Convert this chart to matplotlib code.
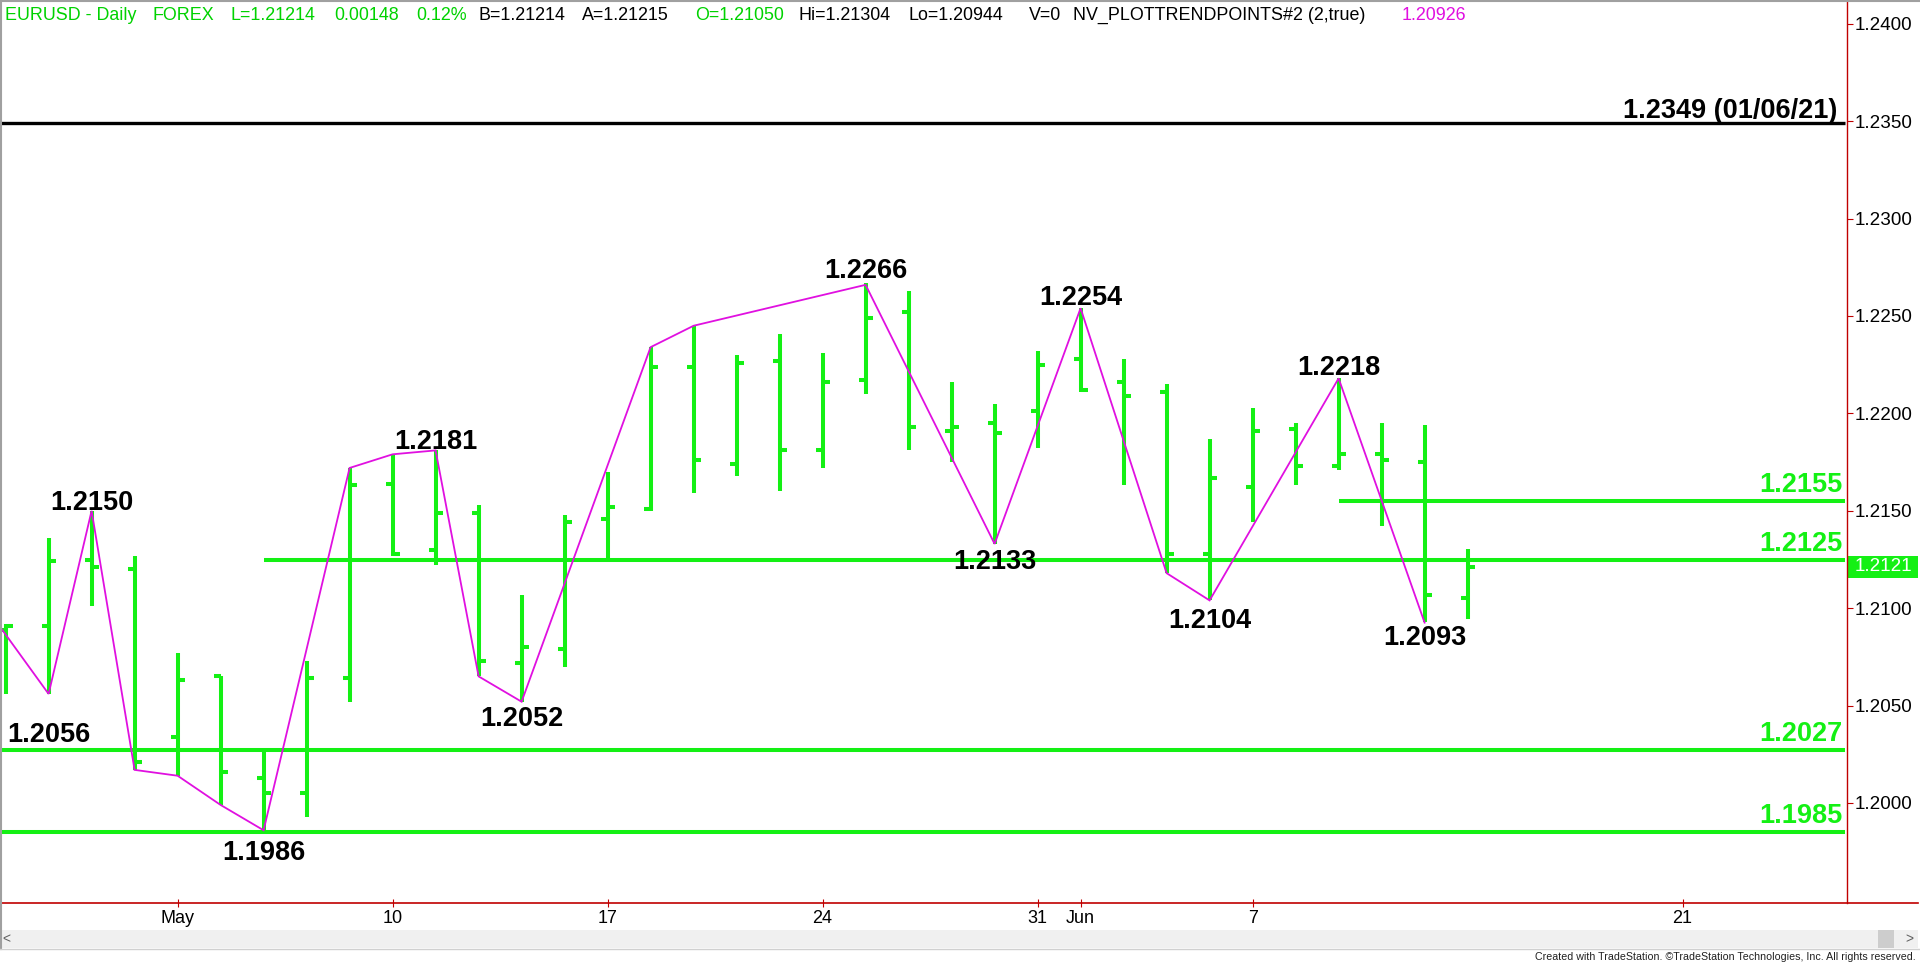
import numpy as np
import matplotlib
matplotlib.use('Agg')
import matplotlib.pyplot as plt
from matplotlib.patches import Rectangle
from matplotlib.lines import Line2D

plt.rcParams['font.family'] = ['Liberation Sans', 'DejaVu Sans']

# ---------------- data ----------------
dates = ['2021-04-27', '2021-04-28', '2021-04-29', '2021-04-30',
         '2021-05-03', '2021-05-04', '2021-05-05', '2021-05-06', '2021-05-07',
         '2021-05-10', '2021-05-11', '2021-05-12', '2021-05-13', '2021-05-14',
         '2021-05-17', '2021-05-18', '2021-05-19', '2021-05-20', '2021-05-21',
         '2021-05-24', '2021-05-25', '2021-05-26', '2021-05-27', '2021-05-28',
         '2021-05-31', '2021-06-01', '2021-06-02', '2021-06-03', '2021-06-04',
         '2021-06-07', '2021-06-08', '2021-06-09', '2021-06-10', '2021-06-11',
         '2021-06-14']
opens = [1.2089, 1.2091, 1.2125, 1.2120,
         1.2034, 1.2065, 1.2013, 1.2005, 1.2064,
         1.2164, 1.2130, 1.2149, 1.2072, 1.2079,
         1.2146, 1.2151, 1.2224, 1.2174, 1.2227,
         1.2181, 1.2217, 1.2252, 1.2191, 1.2195,
         1.2201, 1.2228, 1.2216, 1.2211, 1.2128,
         1.2162, 1.2192, 1.2173, 1.2179, 1.2175,
         1.21050]
highs = [1.2092, 1.2136, 1.2150, 1.2127,
         1.2077, 1.2065, 1.2026, 1.2073, 1.2172,
         1.2179, 1.2181, 1.2153, 1.2107, 1.2148,
         1.2170, 1.2234, 1.2245, 1.2230, 1.2241,
         1.2231, 1.2267, 1.2263, 1.2216, 1.2205,
         1.2232, 1.2254, 1.2228, 1.2215, 1.2187,
         1.2203, 1.2195, 1.2218, 1.2195, 1.2194,
         1.21304]
lows = [1.2056, 1.2056, 1.2101, 1.2017,
        1.2014, 1.1999, 1.1986, 1.1993, 1.2052,
        1.2127, 1.2122, 1.2065, 1.2052, 1.2070,
        1.2126, 1.2150, 1.2159, 1.2168, 1.2160,
        1.2172, 1.2210, 1.2181, 1.2175, 1.2133,
        1.2182, 1.2211, 1.2163, 1.2118, 1.2104,
        1.2144, 1.2163, 1.2171, 1.2142, 1.2093,
        1.20944]
closes = [1.2091, 1.2124, 1.2121, 1.2021,
          1.2063, 1.2016, 1.2005, 1.2064, 1.2163,
          1.2128, 1.2149, 1.2073, 1.2080, 1.2144,
          1.2152, 1.2224, 1.2176, 1.2226, 1.2181,
          1.2216, 1.2249, 1.2193, 1.2193, 1.2190,
          1.2225, 1.2212, 1.2209, 1.2128, 1.2167,
          1.2191, 1.2173, 1.2179, 1.2176, 1.2107,
          1.21214]

# zig-zag trend points (NV_PLOTTRENDPOINTS)
trend_dates = ['2021-04-26', '2021-04-28', '2021-04-29', '2021-04-30', '2021-05-03',
               '2021-05-04', '2021-05-05', '2021-05-07', '2021-05-10', '2021-05-11',
               '2021-05-12', '2021-05-13', '2021-05-18', '2021-05-19', '2021-05-25',
               '2021-05-28', '2021-06-01', '2021-06-03', '2021-06-04', '2021-06-09',
               '2021-06-11']
trend_values = [1.2117, 1.2056, 1.2150, 1.2017, 1.2014,
                1.1999, 1.1986, 1.2172, 1.2179, 1.2181,
                1.2065, 1.2052, 1.2234, 1.2245, 1.2266,
                1.2133, 1.2254, 1.2118, 1.2104, 1.2218,
                1.20926]

# labelled swing points
label_dates = ['2021-04-28', '2021-04-29', '2021-05-05', '2021-05-11', '2021-05-13',
               '2021-05-25', '2021-05-28', '2021-06-01', '2021-06-04', '2021-06-09',
               '2021-06-11']
label_values = [1.2056, 1.2150, 1.1986, 1.2181, 1.2052,
                1.2266, 1.2133, 1.2254, 1.2104, 1.2218, 1.2093]

# horizontal levels
level_values = [1.2349, 1.2155, 1.2125, 1.2027, 1.1985]
level_starts = [None, '2021-06-09', '2021-05-05', None, None]
level_suffix = [' (01/06/21)', '', '', '', '']

# axis ticks
tick_dates = ['2021-05-03', '2021-05-10', '2021-05-17', '2021-05-24',
              '2021-05-31', '2021-06-01', '2021-06-07', '2021-06-21']
tick_labels = ['May', '10', '17', '24', '31', 'Jun', '7', '21']
ytick_values = [1.2000, 1.2050, 1.2100, 1.2150, 1.2200, 1.2250, 1.2300, 1.2350, 1.2400]

# header quote values
bid, ask = 1.21214, 1.21215
net_change, pct_change, volume = 0.00148, 0.12, 0

# ---------------- layout / style ----------------
W, H = 1920, 963
GREEN = '#14F014'
HGREEN = '#00D200'
MAG = '#E010E0'
RED = '#C00000'
ORIGIN = '2021-05-03'
PX_PER_DAY = 43.0
X0_PX = 177.6          # pixel x of ORIGIN bar
PX_PER_UNIT = 19480.0  # pixels per 1.0 of price
AX_RIGHT, AX_BOTTOM = 1847, 903
Y_REF_PX, Y_REF = 803, 1.2000


def day_index(d):
    return np.busday_count(ORIGIN, np.array(d, dtype='datetime64[D]'))


fig = plt.figure(figsize=(W / 100, H / 100), dpi=100)
fig.patch.set_facecolor('white')
ax = fig.add_axes([0, (H - AX_BOTTOM) / H, AX_RIGHT / W, AX_BOTTOM / H])
ax.set_facecolor('white')

xlim = (-X0_PX / PX_PER_DAY, (AX_RIGHT - X0_PX) / PX_PER_DAY)
ylim = (Y_REF - (AX_BOTTOM - Y_REF_PX) / PX_PER_UNIT, Y_REF + Y_REF_PX / PX_PER_UNIT)
ax.set_xlim(*xlim)
ax.set_ylim(*ylim)

x = day_index(dates).astype(float)
tl = 7.0 / PX_PER_DAY
bar_lw = 2.9

vl = ax.vlines(x, lows, highs, color=GREEN, lw=bar_lw, zorder=3)
vl.set_capstyle('butt')
ol = ax.hlines(opens, x - tl, x, color=GREEN, lw=bar_lw, zorder=3)
ol.set_capstyle('butt')
cl = ax.hlines(closes, x, x + tl, color=GREEN, lw=bar_lw, zorder=3)
cl.set_capstyle('butt')

# horizontal levels
x_end = xlim[1] - 2.0 / PX_PER_DAY
for v, s, suf in zip(level_values, level_starts, level_suffix):
    xs = xlim[0] if s is None else float(day_index(s))
    col = 'black' if suf else GREEN
    lw = 2.4 if suf else 2.9
    ln = ax.hlines(v, xs, x_end, color=col, lw=lw, zorder=2)
    ln.set_capstyle('butt')
    xr = (1837 if suf else 1842.7) / AX_RIGHT
    dy = 4.7 if suf else 9.0
    ax.annotate(f'{v:.4f}{suf}', xy=(xr, v), xycoords=('axes fraction', 'data'),
                xytext=(0, dy), textcoords='offset pixels', ha='right', va='baseline',
                fontsize=19.5, fontweight='bold', color=col, zorder=5,
                annotation_clip=False)

# zig-zag
ax.plot(day_index(trend_dates).astype(float), trend_values, color=MAG, lw=1.3,
        zorder=4, solid_joinstyle='miter')

# swing labels (pixel offsets of text baseline from the swing point)
label_dy = [-47.7, 0.5, -30.0, 1.0, -24.0, 6.6, -25.0, 3.3, -27.6, 3.4, -23.3]
for d, v, dy in zip(label_dates, label_values, label_dy):
    ax.annotate(f'{v:.4f}', xy=(float(day_index(d)), v), xytext=(0, dy),
                textcoords='offset pixels', ha='center', va='baseline',
                fontsize=19.5, fontweight='bold', color='black', zorder=6,
                annotation_clip=False)

# axes styling
for sp in ax.spines.values():
    sp.set_visible(False)
ax.yaxis.tick_right()
ax.set_yticks(ytick_values)
ax.set_yticklabels([f'{v:.4f}' for v in ytick_values])
ax.tick_params(axis='y', direction='out', length=4.3, width=0.8, color=RED,
               pad=1.5, labelsize=13.6, labelcolor='black')
ax.set_xticks(day_index(tick_dates).astype(float))
ax.set_xticklabels(tick_labels)
ax.tick_params(axis='x', direction='inout', length=6, width=0.8, color=RED,
               pad=2.0, labelsize=13, labelcolor='black')

# axis lines (red)
fig.add_artist(Line2D([AX_RIGHT / W, AX_RIGHT / W], [(H - AX_BOTTOM) / H, 1.0],
                      transform=fig.transFigure, color=RED, lw=1.0))
fig.add_artist(Line2D([0, 1918 / W], [(H - AX_BOTTOM) / H, (H - AX_BOTTOM) / H],
                      transform=fig.transFigure, color=RED, lw=1.2))

# last price box
last = closes[-1]
box_h = 22.0 / PX_PER_UNIT
ax.add_patch(Rectangle((1.0 + 1.0 / AX_RIGHT, last - box_h / 2), 70.0 / AX_RIGHT, box_h,
                       transform=ax.get_yaxis_transform(), facecolor=GREEN,
                       edgecolor='none', clip_on=False, zorder=7))
ax.text(1.0 + 36.0 / AX_RIGHT, last, f'{last:.4f}', transform=ax.get_yaxis_transform(),
        ha='center', va='center', fontsize=13.6, color='white', zorder=8, clip_on=False)


def fx(px):
    return px / W


def fy(py):
    return 1 - py / H


# header
header_items = [
    ('EURUSD - Daily', HGREEN), ('FOREX', HGREEN), (f'L={closes[-1]:.5f}', HGREEN),
    (f'{net_change:.5f}', HGREEN), (f'{pct_change:.2f}%', HGREEN),
    (f'B={bid:.5f}', 'black'), (f'A={ask:.5f}', 'black'),
    (f'O={opens[-1]:.5f}', HGREEN), (f'Hi={highs[-1]:.5f}', 'black'),
    (f'Lo={lows[-1]:.5f}', 'black'), (f'V={volume}', 'black'),
    ('NV_PLOTTRENDPOINTS#2 (2,true)', 'black'), (f'{trend_values[-1]:.5f}', MAG),
]
header_x = [5, 153, 230, 334, 416, 478, 582, 695, 799, 908, 1029, 1073, 1402]
for (t, c), hx in zip(header_items, header_x):
    fig.text(fx(hx), fy(20), t, color=c, fontsize=12.9, ha='left', va='baseline')

# scrollbar & footer
fig.add_artist(Rectangle((0, fy(948)), fx(1918), 18 / H, transform=fig.transFigure,
                         facecolor='#F0F0F0', edgecolor='none'))
fig.add_artist(Rectangle((fx(1878), fy(948)), 16 / W, 18 / H, transform=fig.transFigure,
                         facecolor='#CDCDCD', edgecolor='none'))
fig.text(fx(6), fy(939), '<', fontsize=10, color='#606060', ha='center', va='center')
fig.text(fx(1909), fy(939), '>', fontsize=10, color='#606060', ha='center', va='center')
fig.text(fx(1916), fy(957),
         'Created with TradeStation. \u00a9TradeStation Technologies, Inc. All rights reserved.',
         fontsize=7.7, color='#202020', ha='right', va='center')

# window frame
fig.add_artist(Line2D([fx(0.5), fx(0.5)], [fy(0), fy(949)], transform=fig.transFigure,
                      color='#A0A0A0', lw=1.5))
fig.add_artist(Line2D([0, fx(1919)], [fy(0.7), fy(0.7)], transform=fig.transFigure,
                      color='#A0A0A0', lw=1.5))
fig.add_artist(Line2D([0, fx(1919)], [fy(949), fy(949)], transform=fig.transFigure,
                      color='#D0D0D0', lw=1.0))

fig.savefig('out.png', dpi=100, facecolor='white')
